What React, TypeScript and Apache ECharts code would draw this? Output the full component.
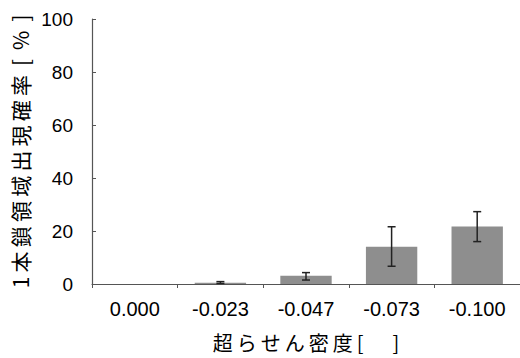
import React, { useEffect, useRef } from "react";
import * as echarts from "echarts";

const categories = ["0.000", "-0.023", "-0.047", "-0.073", "-0.100"];
const values = [0, 0.5, 3.1, 14.1, 21.7];
const errLow = [0, 0.2, 1.5, 6.7, 16.0];
const errHigh = [0, 0.9, 4.3, 21.6, 27.3];
const yTicks = [0, 20, 40, 60, 80, 100];
const T = "\u2009";
const xName = ["超", "ら", "せ", "ん", "密", "度", "[\u3000  ]"].join(T);
const yName = ["1", "本", "鎖", "領", "域", "出", "現", "確", "率", " [", " %", " ]"].join(T);

export default function App() {
  const ref = useRef<HTMLDivElement>(null);
  useEffect(() => {
    const chart = echarts.init(ref.current!, null, { renderer: "svg" });
    const font = "Liberation Sans, Arial, sans-serif";
    const errData = categories.map((_, i) => [i, errLow[i], errHigh[i]]);
    chart.setOption({
      animation: false,
      grid: { left: 92, right: 0, top: 19, bottom: 74, containLabel: false, outerBoundsMode: "none" },
      xAxis: {
        type: "category",
        data: categories,
        name: xName,
        nameLocation: "middle",
        nameGap: 48,
        nameTextStyle: { fontSize: 20, color: "#000", fontFamily: "Noto Sans CJK JP" },
        axisLine: { lineStyle: { color: "#555", width: 1.2 } },
        axisTick: { show: true, inside: false, length: 4, alignWithLabel: false, lineStyle: { color: "#555" } },
        axisLabel: { fontSize: 20, color: "#000", margin: 15, fontFamily: font },
      },
      yAxis: {
        type: "value",
        min: 0,
        max: 100,
        interval: 20,
        name: yName,
        nameLocation: "middle",
        nameGap: 60,
        nameRotate: 90,
        nameTextStyle: { fontSize: 21, color: "#000", fontFamily: "Noto Sans CJK JP" },
        axisLine: { show: true, lineStyle: { color: "#555", width: 1.2 } },
        axisTick: { show: true, inside: true, length: 4, lineStyle: { color: "#555" } },
        splitLine: { show: false },
        axisLabel: {
          fontSize: 19,
          color: "#000",
          margin: 19,
          fontFamily: font,
          formatter: (v: number) => (yTicks.includes(v) ? String(v) : ""),
        },
      },
      series: [
        {
          type: "bar",
          data: values,
          barCategoryGap: "40%",
          itemStyle: { color: "#8e8e8e" },
          z: 2,
        },
        {
          type: "custom",
          data: errData,
          z: 3,
          renderItem: (params: any, api: any) => {
            const i = api.value(0);
            const lo = api.coord([i, api.value(1)]);
            const hi = api.coord([i, api.value(2)]);
            if (api.value(2) - api.value(1) <= 0) return { type: "group", children: [] };
            const w = 4;
            const style = { stroke: "#222", lineWidth: 1.5 };
            return {
              type: "group",
              children: [
                { type: "line", shape: { x1: lo[0], y1: lo[1], x2: hi[0], y2: hi[1] }, style },
                { type: "line", shape: { x1: lo[0] - w, y1: lo[1], x2: lo[0] + w, y2: lo[1] }, style },
                { type: "line", shape: { x1: hi[0] - w, y1: hi[1], x2: hi[0] + w, y2: hi[1] }, style },
              ],
            };
          },
        },
      ],
    });
    return () => chart.dispose();
  }, []);
  return <div ref={ref} style={{ width: 520, height: 358, position: "absolute", left: 0, top: 0, background: "#fff" }} />;
}
